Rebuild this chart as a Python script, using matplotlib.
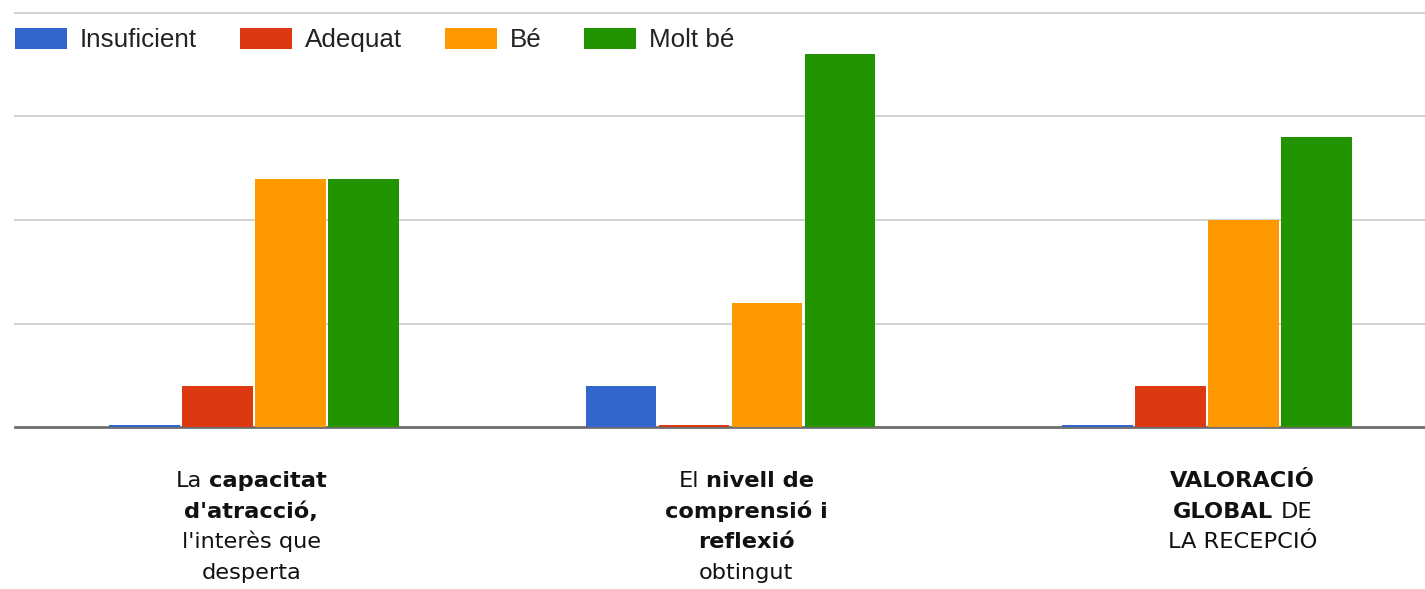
import matplotlib
matplotlib.use("Agg")
import matplotlib.pyplot as plt
import numpy as np

series = ["Insuficient", "Adequat", "Bé", "Molt bé"]
colors = ["#3366cc", "#dc3912", "#ff9900", "#229400"]
# counts per category (rows: categories, cols: series)
group1 = [0, 1, 6, 6]
group2 = [1, 0, 3, 9]
group3 = [0, 1, 5, 7]
values = np.array([group1, group2, group3])

# category labels: lines of (text, bold) pieces
cat_labels = [
    [[("La", False), ("capacitat", True)],
     [("d'atracció,", True)],
     [("l'interès que", False)],
     [("desperta", False)]],
    [[("El", False), ("nivell de", True)],
     [("comprensió i", True)],
     [("reflexió", True)],
     [("obtingut", False)]],
    [[("VALORACIÓ", True)],
     [("GLOBAL", True), ("DE", False)],
     [("LA RECEPCIÓ", False)]],
]
yticks = [0, 2.5, 5, 7.5, 10]

W, H = 1425, 589
fig = plt.figure(figsize=(W / 100, H / 100), dpi=100)
ax = fig.add_axes([15 / W, 1 - 427 / H, 1 - 15 / W, (427 - 13) / H])

slot = 0.1532
bw = 0.147
x = np.arange(values.shape[0])
handles = []
for k in range(len(series)):
    v = values[:, k].astype(float)
    disp = np.where(v == 0, 0.045, v)
    b = ax.bar(x + (k - 1.5) * slot, disp, width=bw, color=colors[k],
               edgecolor="none", zorder=3, label=series[k])
    handles.append(b)

ax.set_xlim(-0.5016, 2.4575)
ax.set_ylim(0, 10)
for yv in yticks[1:]:
    ax.axhline(yv, color="#d4d4d4", lw=1.5, zorder=1, clip_on=False)
ax.axhline(0, color="#6e6e6e", lw=2.0, zorder=2, clip_on=False)
for s in ax.spines.values():
    s.set_visible(False)
ax.set_xticks([])
ax.set_yticks([])

leg = ax.legend(handles=handles, loc="center left",
                bbox_to_anchor=(15 / W, 1 - 40 / H), bbox_transform=fig.transFigure,
                ncol=4, frameon=False, borderpad=0, borderaxespad=0,
                handlelength=2.0, handleheight=0.92, handletextpad=0.5,
                columnspacing=1.65,
                prop={"family": "Liberation Sans", "size": 18.7})
for t in leg.get_texts():
    t.set_color("#222222")

# category labels with mixed weights
fs = 16.2
fam = "DejaVu Sans"
renderer = fig.canvas.get_renderer()
baselines = [487, 518, 548, 579]
label_dx = [-0.006, 0.033, 0.075]
space_px = 0.33 * fs * 100 / 72

def width_of(txt, bold):
    t = fig.text(0, 0, txt, fontsize=fs, family=fam,
                 fontweight="bold" if bold else "normal")
    w = t.get_window_extent(renderer).width
    t.remove()
    return w

for i, lines in enumerate(cat_labels):
    cx = ax.transData.transform((x[i] + label_dx[i], 0))[0]
    for j, pieces in enumerate(lines):
        widths = [width_of(p, b) for p, b in pieces]
        total = sum(widths) + space_px * (len(pieces) - 1)
        px = cx - total / 2
        for (p, b), w in zip(pieces, widths):
            fig.text(px / W, 1 - baselines[j] / H, p, fontsize=fs, family=fam,
                     fontweight="bold" if b else "normal", color="#111111",
                     ha="left", va="baseline")
            px += w + space_px

fig.savefig("out.png", dpi=100)
